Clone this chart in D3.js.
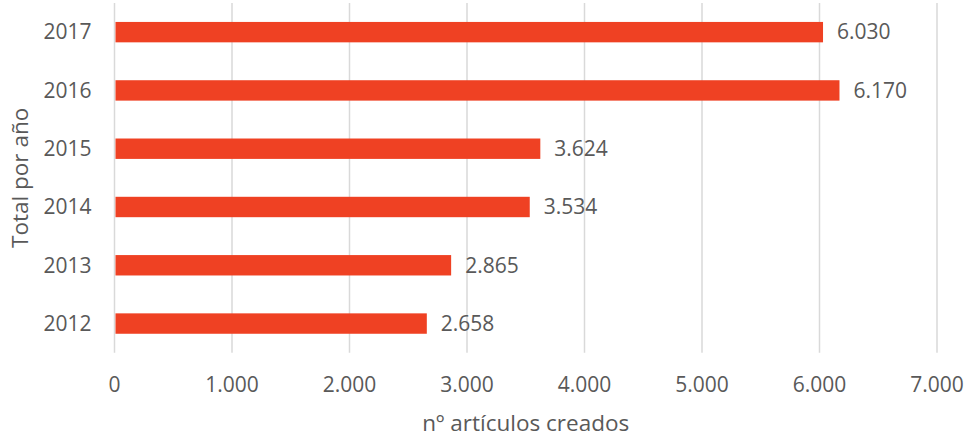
<!DOCTYPE html>
<html><head><meta charset="utf-8">
<script src="https://cdn.jsdelivr.net/npm/d3@7"></script>
<style>body{margin:0;background:#fff}text{font-family:"Open Sans",sans-serif;fill:#595959}</style>
</head><body><svg id="c" width="969" height="439"></svg>
<script>
const years = ["2017","2016","2015","2014","2013","2012"];
const values = [6030,6170,3624,3534,2865,2658];
const ticks = [0,1000,2000,3000,4000,5000,6000,7000];
const xTitle = "nº artículos creados";
const yTitle = "Total por año";

const svg = d3.select("#c");
const m = {l:114.5, r:32, t:3, b:86.3};
const W = 969, H = 439;
const x = d3.scaleLinear().domain([0,7000]).range([m.l, W-m.r]);
const y = d3.scaleBand().domain(years).range([m.t, H-m.b]).paddingInner(0.65).paddingOuter(0.325);
const fmt = d => d3.format(",")(d).replace(/,/g,".");

svg.append("g").selectAll("line").data(ticks).join("line")
  .attr("x1",d=>x(d)).attr("x2",d=>x(d)).attr("y1",m.t).attr("y2",H-m.b)
  .attr("stroke","#d9d9d9").attr("stroke-width",1.5);

svg.append("g").selectAll("rect").data(values).join("rect")
  .attr("x",x(0)+1).attr("y",(d,i)=>y(years[i])).attr("height",y.bandwidth())
  .attr("width",d=>x(d)-x(0)-1).attr("fill","#EF4123");

svg.append("g").selectAll("text").data(values).join("text")
  .attr("x",d=>x(d)+14).attr("y",(d,i)=>y(years[i])+y.bandwidth()/2).attr("dy","0.35em")
  .attr("font-size","21px").text(d=>fmt(d));

svg.append("g").selectAll("text").data(years).join("text")
  .attr("x",x(0)-23).attr("y",d=>y(d)+y.bandwidth()/2).attr("dy","0.35em")
  .attr("text-anchor","end").attr("font-size","21px").text(d=>d);

svg.append("g").selectAll("text").data(ticks).join("text")
  .attr("x",d=>x(d)).attr("y",385).attr("dy","0.35em")
  .attr("text-anchor","middle").attr("font-size","21px").text(d=>fmt(d));

svg.append("text").attr("x",(x(0)+x(7000))/2).attr("y",423).attr("dy","0.35em")
  .attr("text-anchor","middle").attr("font-size","22.5px").text(xTitle);

svg.append("text").attr("transform",`translate(20,${(m.t+H-m.b)/2}) rotate(-90)`).attr("dy","0.35em")
  .attr("text-anchor","middle").attr("font-size","22.5px").text(yTitle);
</script></body></html>
